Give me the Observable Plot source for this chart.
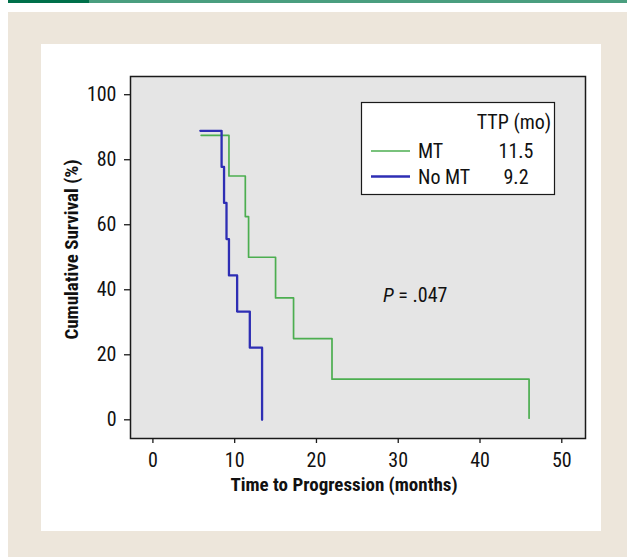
<!DOCTYPE html>
<html><head><meta charset="utf-8">
<script src="https://cdn.jsdelivr.net/npm/d3@7"></script>
<script src="https://cdn.jsdelivr.net/npm/@observablehq/plot@0.6"></script>
<style>
html,body{margin:0;padding:0;background:#fff;}
#root{position:relative;width:627px;height:557px;overflow:hidden;font-family:"Liberation Sans Narrow","Arial Narrow","Roboto Condensed",sans-serif;color:#111;}
.bar1{position:absolute;left:8px;top:0;width:81px;height:3px;background:#00704a}
.bar2{position:absolute;left:89px;top:0;right:0;height:3px;background:#4a9e7f}
.beige{position:absolute;left:8px;top:12px;right:0;bottom:0;background:#ede6db}
.panel{position:absolute;left:41px;top:44px;width:560px;height:487px;background:#fff}
#chart{position:absolute;left:41px;top:44px;}
#overlay{position:absolute;left:0;top:0;pointer-events:none;}
</style>
</head><body>
<div id="root">
  <div class="bar1"></div><div class="bar2"></div>
  <div class="beige"></div><div class="panel"></div>
  <div id="chart"></div>
  <svg id="overlay" width="627" height="557"></svg>
</div>
<script>
// ---- data ----
const mtTime   = [5.9, 9.3, 11.3, 11.7, 15.0, 17.2, 21.9, 46.0];
const mtSurv   = [87.5, 75, 62.5, 50, 37.5, 25, 12.5, 0.5];
const noMtTime = [5.8, 8.4, 8.7, 9.0, 9.3, 10.3, 11.85, 13.35];
const noMtSurv = [88.9, 77.8, 66.7, 55.6, 44.4, 33.3, 22.2, 0];
const groups   = ["MT", "No MT"];
const ttpValues = ["11.5", "9.2"];
const groupColors = ["#4cae50", "#2e2eb4"];
const xTicks = [0, 10, 20, 30, 40, 50];
const yTicks = [0, 20, 40, 60, 80, 100];
const xTitle = "Time to Progression (months)";
const yTitle = "Cumulative Survival (%)";
const legendTitle = "TTP (mo)";
const pText = ".047";

const FONT = '"Liberation Sans Narrow","Arial Narrow","Roboto Condensed",sans-serif';

const mt = mtTime.map((t, i) => ({t, s: mtSurv[i]}));
const nomt = noMtTime.map((t, i) => ({t, s: noMtSurv[i]}));

const chart = Plot.plot({
  width: 560, height: 487,
  marginLeft: 89, marginRight: 16, marginTop: 32, marginBottom: 93,
  style: {background: "transparent", fontFamily: FONT, fontSize: "20px", color: "#111"},
  x: {domain: [-2.74, 52.9]},
  y: {domain: [-5.75, 105.6]},
  marks: [
    Plot.frame({fill: "#e5e5e5", stroke: "none"}),
    Plot.line(mt, {x: "t", y: "s", curve: "step-after", stroke: groupColors[0], strokeWidth: 1.7}),
    Plot.line(nomt, {x: "t", y: "s", curve: "step-after", stroke: groupColors[1], strokeWidth: 2.3}),
    Plot.frame({stroke: "#1a1a1a", strokeWidth: 1.5}),
    Plot.axisX({ticks: xTicks, tickSize: 5, tickPadding: 9, label: null, stroke: "#1a1a1a", strokeWidth: 1.3, fontSize: 20}),
    Plot.axisY({ticks: yTicks, tickSize: 6, tickPadding: 8, label: null, stroke: "#1a1a1a", strokeWidth: 1.3, fontSize: 20}),
    Plot.text([xTitle], {frameAnchor: "bottom", text: d => d, dy: 46, dx: -14, textAnchor: "middle", fontWeight: "bold", fontSize: 19, lineAnchor: "middle", fill: "#111"}),
    Plot.text([yTitle], {frameAnchor: "left", text: d => d, dx: -58.6, dy: -8, rotate: -90, textAnchor: "middle", fontWeight: "bold", fontSize: 19, lineAnchor: "middle", fill: "#111"})
  ]
});
document.getElementById("chart").appendChild(chart);

// ---- legend + annotation overlay ----
const svg = d3.select("#overlay");
const g = svg.append("g").style("font-family", FONT).style("font-size", "20px").attr("fill", "#111");
g.append("rect").attr("x", 361.5).attr("y", 102.5).attr("width", 193).attr("height", 92)
  .attr("fill", "#fff").attr("stroke", "#1a1a1a").attr("stroke-width", 1.2);
g.append("text").attr("x", 514).attr("y", 128.5).attr("text-anchor", "middle").text(legendTitle);
groups.forEach((name, i) => {
  const y = 151 + i * 25.5;
  g.append("line").attr("x1", 371).attr("x2", 410).attr("y1", y).attr("y2", y)
    .attr("stroke", groupColors[i]).attr("stroke-width", i ? 2.3 : 1.7);
  g.append("text").attr("x", 418).attr("y", y + 7).text(name);
  g.append("text").attr("x", 516).attr("y", y + 7).attr("text-anchor", "middle").text(ttpValues[i]);
});
const pt = g.append("text").attr("x", 383).attr("y", 302);
pt.append("tspan").attr("font-style", "italic").text("P");
pt.append("tspan").text(" = " + pText);
</script>
</body></html>
